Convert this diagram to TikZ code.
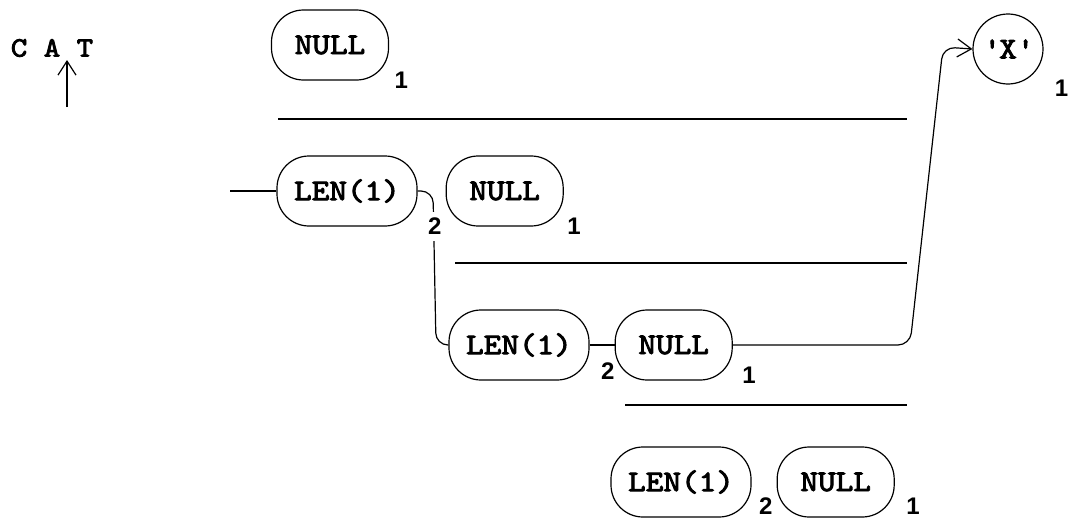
\documentclass[tikz,border=0pt]{standalone}
\usepackage{fontspec}
\setsansfont{Liberation Sans}
\newfontfamily\codefont[FakeBold=3,FakeStretch=1.12]{lmmono10-regular.otf}
\usetikzlibrary{positioning,arrows.meta}

\begin{document}
\begin{tikzpicture}[x=1pt,y=-1pt,line width=1.2pt]
		\tikzstyle{box}=[draw, rounded corners=32pt, minimum height=70pt, inner sep=0pt, font=\fontsize{30}{31}\selectfont\codefont]
		\tikzstyle{num}=[inner sep=1pt, font=\fontsize{24}{26}\selectfont\sffamily\bfseries]
		\tikzset{>={Straight Barb[length=14pt,width=18pt]}}
		\useasboundingbox (0,0) rectangle (1072,522);
		% input pointer
		\node[font=\fontsize{28}{30}\selectfont\codefont] (word) at (52,48) {C A T};
		\coordinate (ptr) at (67,107);
		\coordinate (tip) at (67,60);
		\draw[->] (ptr) -- (tip);
		% alternatives
		\node[box, minimum width=117pt] (null0) at (330,45) {NULL};
		\node[box, minimum width=140pt] (len1) at (347,191) {LEN(1)};
		\node[box, minimum width=117pt, right=28pt of len1] (null1) {NULL};
		\node[box, minimum width=140pt] (len2) at (519,345) {LEN(1)};
		\node[box, minimum width=117pt, right=25pt of len2] (null2) {NULL};
		\node[box, minimum width=140pt] (len3) at (681,482) {LEN(1)};
		\node[box, minimum width=117pt, right=25pt of len3] (null3) {NULL};
		\node[draw, circle, minimum size=70pt, inner sep=0pt, font=\fontsize{30}{31}\selectfont\codefont] (xc) at (1008,49) {\textquotesingle X\textquotesingle};
		\foreach \y/\x in {119/278, 263/455, 405/625}
			\draw (\x,\y) -- (907,\y);
		% connectors
		\coordinate (entry) at (230,191);
		\coordinate (down1) at (433,191);
		\coordinate (down2) at (436,345);
		\coordinate (rise1) at (910,345);
		\coordinate (rise2) at (943,47);
		\draw (entry) -- (len1.west);
		\draw[rounded corners=12pt] (len1.east) -- (down1) -- (down2) -- (len2.west);
		\draw (len2) -- (null2);
		\draw[->, rounded corners=12pt] (null2.east) -- (rise1) -- (rise2) -- (xc.west);
		% counts
		\node[num, right=4pt of null0.south east] (c0) {1};
		\node[num, fill=white, inner sep=6pt, right=4pt of len1.south east] (c1) {2};
		\node[num, right=2pt of null1.south east] (c2) {1};
		\node[num, above right=0pt and 10pt of len2.south east] (c3) {2};
		\node[num, above right=-4pt and 8pt of null2.south east] (c4) {1};
		\node[num, above right=2pt and 6pt of len3.south east] (c5) {2};
		\node[num, above right=2pt and 10pt of null3.south east] (c6) {1};
		\node[num, below right=4pt and 20pt of xc.south east] (c7) {1};
	\end{tikzpicture}
\end{document}
